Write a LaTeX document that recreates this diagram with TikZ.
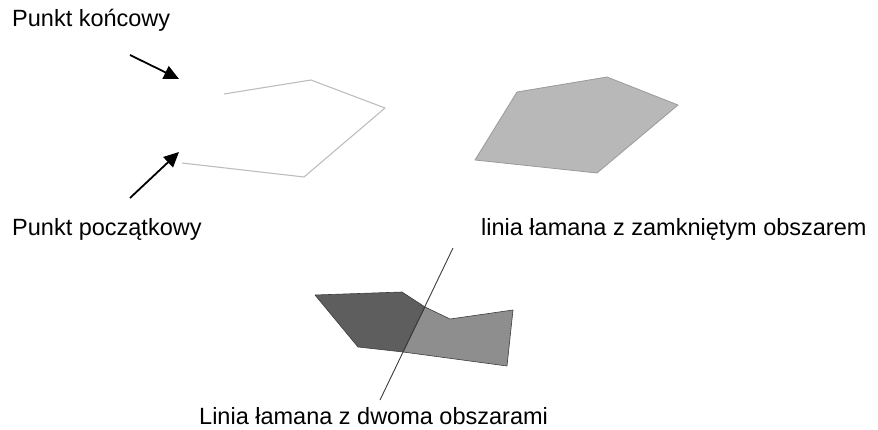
\documentclass[tikz,border=0pt]{standalone}
\usepackage{fontspec}
\setmainfont{Liberation Sans}
\usetikzlibrary{arrows.meta}
\definecolor{outline}{HTML}{BDBDBD}
\definecolor{fillA}{HTML}{B8B8B8}
\definecolor{edgeA}{HTML}{9A9A9A}
\definecolor{darkpart}{HTML}{5E5E5E}
\definecolor{lightpart}{HTML}{8E8E8E}
\definecolor{edgeB}{HTML}{3C3C3C}
\tikzset{
  lbl/.style={font=\fontsize{23.5}{28}\selectfont, inner sep=0pt, anchor=base west, text=black},
  pointer/.style={black, line width=1.8pt, -{Triangle[length=15pt,width=14pt]}},
}
\begin{document}
\begin{tikzpicture}[x=1pt,y=-1pt]
\useasboundingbox (0,0) rectangle (878,430);
% labels
\node[lbl] (endlbl) at (12,27) {Punkt końcowy};
\node[lbl] (startlbl) at (12,236) {Punkt początkowy};
\node[lbl] (closedlbl) at (481,236) {linia łamana z zamkniętym obszarem};
\node[lbl] (twolbl) at (199,424) {Linia łamana z dwoma obszarami};
% first polyline
\coordinate (p1) at (224,94);
\coordinate (p2) at (311,80);
\coordinate (p3) at (385,108);
\coordinate (p4) at (304,177);
\coordinate (p5) at (182,163);
\draw[outline, line width=1.1pt, line join=round] (p1) -- (p2) -- (p3) -- (p4) -- (p5);
% arrows
\coordinate (a1s) at (130,55);
\coordinate (a1e) at (179,79);
\coordinate (a2s) at (130,198);
\coordinate (a2e) at (179,152);
\draw[pointer] (a1s) -- (a1e);
\draw[pointer] (a2s) -- (a2e);
% closed polygon
\coordinate (q1) at (475,160);
\coordinate (q2) at (517,92);
\coordinate (q3) at (607,77);
\coordinate (q4) at (678,105);
\coordinate (q5) at (597,173);
\filldraw[fill=fillA, draw=edgeA, line width=0.8pt, line join=round] (q1) -- (q2) -- (q3) -- (q4) -- (q5) -- cycle;
% two-area polygon
\coordinate (r1) at (315,295);
\coordinate (r2) at (402,292);
\coordinate (x1) at (425,307);
\coordinate (r3) at (450,319);
\coordinate (r4) at (513,310);
\coordinate (r5) at (507,366);
\coordinate (x2) at (403,352);
\coordinate (r6) at (358,347);
\filldraw[fill=darkpart, draw=edgeB, line width=0.6pt, line join=round] (r1) -- (r2) -- (x1) -- (x2) -- (r6) -- cycle;
\filldraw[fill=lightpart, draw=edgeB, line width=0.6pt, line join=round] (x1) -- (r3) -- (r4) -- (r5) -- (x2) -- cycle;
\coordinate (l1) at (453,248);
\coordinate (l2) at (380,400);
\draw[edgeB, line width=0.9pt] (l1) -- (l2);
\end{tikzpicture}
\end{document}
